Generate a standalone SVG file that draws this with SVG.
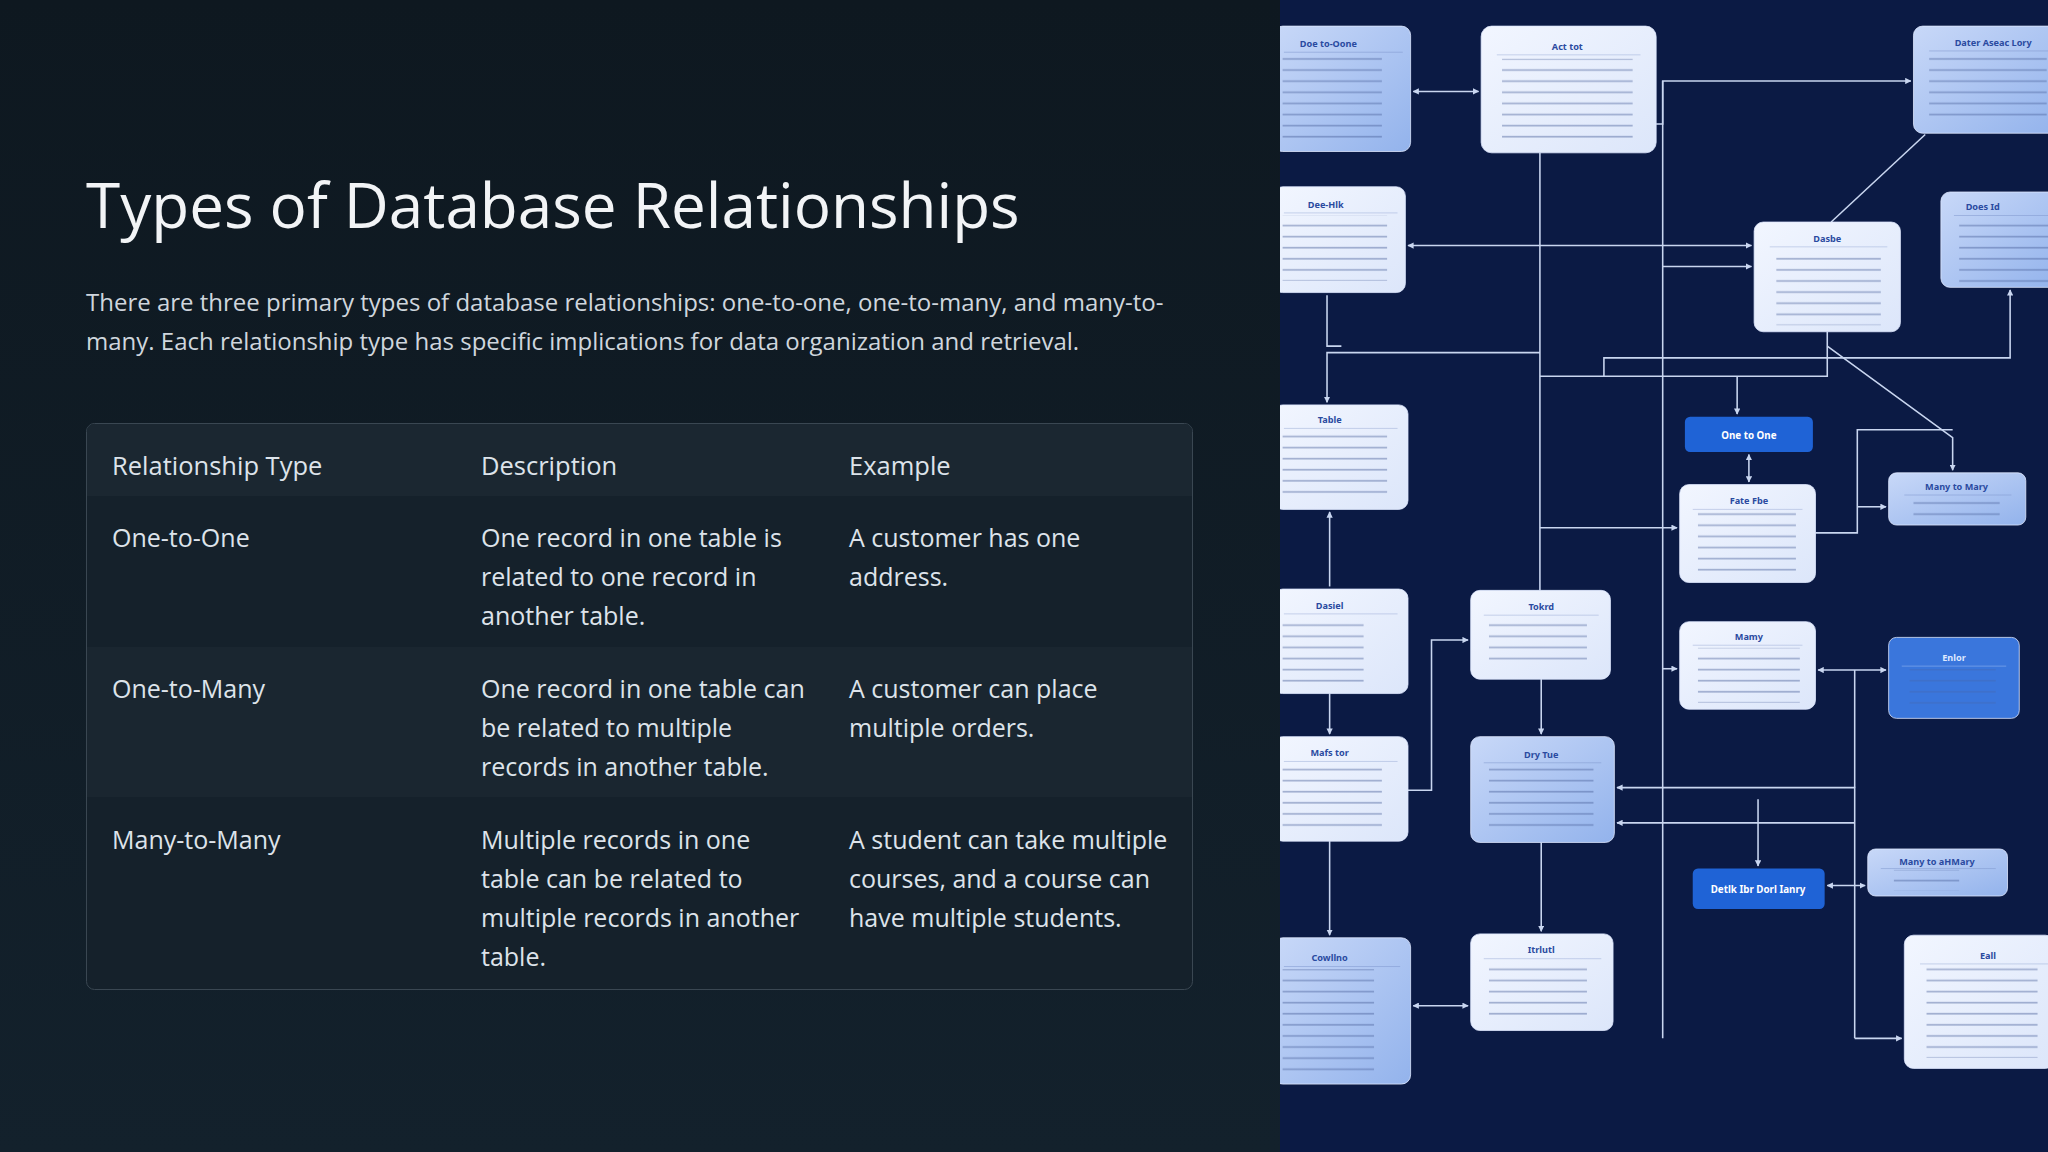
<svg xmlns="http://www.w3.org/2000/svg" width="2048" height="1152" viewBox="0 0 2048 1152">
<defs>
<linearGradient id="bgL" x1="0" y1="0" x2="0" y2="1"><stop offset="0" stop-color="#0e1820"/><stop offset="1" stop-color="#13212c"/></linearGradient>
<linearGradient id="lb" x1="0" y1="0" x2="1" y2="1"><stop offset="0" stop-color="#c8d8f8"/><stop offset="1" stop-color="#93b3ec"/></linearGradient>
<linearGradient id="wb" x1="0" y1="0" x2="1" y2="1"><stop offset="0" stop-color="#f2f6ff"/><stop offset="1" stop-color="#dce6fa"/></linearGradient>
<marker id="ar" viewBox="0 0 10 10" refX="9" refY="5" markerWidth="4" markerHeight="4" orient="auto-start-reverse"><path d="M0,0L10,5L0,10z" fill="#c9d6f0"/></marker>
<pattern id="tl" width="1" height="8.5" patternUnits="userSpaceOnUse"><rect x="0" y="2" width="1" height="1.3" fill="#4a5f9a" opacity="0.45"/></pattern>
<style>
.t{font-family:"Open Sans","Noto Sans","Liberation Sans",sans-serif}
.h{fill:#dde3ea;font-size:25.5px}
.c{fill:#dde3ea;font-size:25px}
.n rect.b{stroke:#dfe8ff;stroke-width:0.6}
.nt{font-family:"Noto Sans","Liberation Sans",sans-serif;font-size:7px;font-weight:bold;fill:#2a4aa0;text-anchor:middle}
.bt{font-family:"Noto Sans","Liberation Sans",sans-serif;font-size:7.5px;font-weight:bold;fill:#fff;text-anchor:middle}
.cn path{fill:none;stroke:#c9d6f0;stroke-width:1.2}
</style>
</defs>
<rect width="2048" height="1152" fill="url(#bgL)"/>
<text class="t" x="86" y="228" font-size="62" fill="#f2f4f6">Types of Database Relationships</text>
<text class="t" x="86" y="311" font-size="24" fill="#cfd6dd">There are three primary types of database relationships: one-to-one, one-to-many, and many-to-</text>
<text class="t" x="86" y="350" font-size="24" fill="#cfd6dd">many. Each relationship type has specific implications for data organization and retrieval.</text>
<g id="table">
<rect x="86.5" y="423.5" width="1106" height="566" rx="8" fill="#15212b" stroke="#3a4752"/>
<path d="M87,496V431a7,7 0 0 1 7,-7H1185a7,7 0 0 1 7,7V496z" fill="#1b2731"/>
<rect x="87" y="647" width="1105" height="150" fill="#1a2630"/>
<text class="t h" x="112" y="475">Relationship Type</text>
<text class="t h" x="481" y="475">Description</text>
<text class="t h" x="849" y="475">Example</text>
<text class="t c" x="112" y="547">One-to-One</text>
<text class="t c" x="481" y="547">One record in one table is</text>
<text class="t c" x="481" y="586">related to one record in</text>
<text class="t c" x="481" y="625">another table.</text>
<text class="t c" x="849" y="547">A customer has one</text>
<text class="t c" x="849" y="586">address.</text>
<text class="t c" x="112" y="698">One-to-Many</text>
<text class="t c" x="481" y="698">One record in one table can</text>
<text class="t c" x="481" y="737">be related to multiple</text>
<text class="t c" x="481" y="776">records in another table.</text>
<text class="t c" x="849" y="698">A customer can place</text>
<text class="t c" x="849" y="737">multiple orders.</text>
<text class="t c" x="112" y="849">Many-to-Many</text>
<text class="t c" x="481" y="849">Multiple records in one</text>
<text class="t c" x="481" y="888">table can be related to</text>
<text class="t c" x="481" y="927">multiple records in another</text>
<text class="t c" x="481" y="966">table.</text>
<text class="t c" x="849" y="849">A student can take multiple</text>
<text class="t c" x="849" y="888">courses, and a course can</text>
<text class="t c" x="849" y="927">have multiple students.</text>
</g>
<rect x="1280" y="0" width="768" height="1152" fill="#0b1a44"/>
<svg x="1280" y="0" width="768" height="1152" viewBox="980 0 588 882" preserveAspectRatio="none" overflow="hidden">
<g class="cn">
<path d="M1082,70H1132" marker-start="url(#ar)" marker-end="url(#ar)"/>
<path d="M1268,95H1273V62H1463" marker-end="url(#ar)"/>
<path d="M1273,62V795"/>
<path d="M1179,117V452"/>
<path d="M1078,188H1341" marker-start="url(#ar)" marker-end="url(#ar)"/>
<path d="M1273,204H1341" marker-end="url(#ar)"/>
<path d="M1402,170L1474,103"/>
<path d="M1016,226V265H1027"/>
<path d="M1179,270H1016V308" marker-end="url(#ar)"/>
<path d="M1399,254V288H1179"/>
<path d="M1228,288V274H1539V222" marker-end="url(#ar)"/>
<path d="M1330,288V317" marker-end="url(#ar)"/>
<path d="M1339,348V369" marker-start="url(#ar)" marker-end="url(#ar)"/>
<path d="M1399,265L1495,335V360" marker-end="url(#ar)"/>
<path d="M1390,408H1422V329H1495"/>
<path d="M1422,388H1444" marker-end="url(#ar)"/>
<path d="M1179,404H1284" marker-end="url(#ar)"/>
<path d="M1018,449V392" marker-end="url(#ar)"/>
<path d="M1018,531V562" marker-end="url(#ar)"/>
<path d="M1018,644V716" marker-end="url(#ar)"/>
<path d="M1078,605H1096V490H1124" marker-end="url(#ar)"/>
<path d="M1180,520V562" marker-end="url(#ar)"/>
<path d="M1273,512H1284" marker-end="url(#ar)"/>
<path d="M1392,513H1444" marker-start="url(#ar)" marker-end="url(#ar)"/>
<path d="M1238,603H1420V795" marker-start="url(#ar)"/>
<path d="M1420,630H1238" marker-end="url(#ar)"/>
<path d="M1346,612V663" marker-end="url(#ar)"/>
<path d="M1399,678H1428" marker-start="url(#ar)" marker-end="url(#ar)"/>
<path d="M1420,795H1456" marker-end="url(#ar)"/>
<path d="M1420,513V603"/>
<path d="M1180,645V713" marker-end="url(#ar)"/>
<path d="M1082,770H1124" marker-start="url(#ar)" marker-end="url(#ar)"/>
</g>
<g id="n1" class="n"><rect class="b" x="975" y="20" width="105" height="96" rx="7" fill="url(#lb)"/><text class="nt" x="1017" y="36">Doe to-Oone</text><path d="M983,40H1074" stroke="#7f96cc" stroke-width="0.4"/><rect x="982" y="43" width="76" height="66" fill="url(#tl)"/></g>
<g id="n2" class="n"><rect class="b" x="1134" y="20" width="134" height="97" rx="8" fill="url(#wb)"/><text class="nt" x="1200" y="38">Act tot</text><path d="M1146,42H1256" stroke="#9fb0d8" stroke-width="0.4"/><rect x="1150" y="45" width="100" height="66" fill="url(#tl)"/></g>
<g id="n3" class="n"><rect class="b" x="1465" y="20" width="110" height="82" rx="7" fill="url(#lb)"/><text class="nt" x="1526" y="35">Dater Aseac Lory</text><path d="M1477,39H1568" stroke="#7f96cc" stroke-width="0.4"/><rect x="1477" y="41" width="90" height="52" fill="url(#tl)"/></g>
<g id="n4" class="n"><rect class="b" x="975" y="143" width="101" height="81" rx="7" fill="url(#wb)"/><text class="nt" x="1015" y="159">Dee-Hlk</text><path d="M983,163H1070" stroke="#9fb0d8" stroke-width="0.4"/><rect x="982" y="165" width="80" height="50" fill="url(#tl)"/></g>
<g id="n5" class="n"><rect class="b" x="1343" y="170" width="112" height="84" rx="7" fill="url(#wb)"/><text class="nt" x="1399" y="185">Dasbe</text><path d="M1355,189H1445" stroke="#9fb0d8" stroke-width="0.4"/><rect x="1360" y="191" width="80" height="58" fill="url(#tl)"/></g>
<g id="n6" class="n"><rect class="b" x="1486" y="147" width="90" height="73" rx="7" fill="url(#lb)"/><text class="nt" x="1518" y="161">Does Id</text><path d="M1496,165H1568" stroke="#7f96cc" stroke-width="0.4"/><rect x="1500" y="167" width="68" height="50" fill="url(#tl)"/></g>
<g id="n7" class="n"><rect class="b" x="975" y="310" width="103" height="80" rx="7" fill="url(#wb)"/><text class="nt" x="1018" y="324">Table</text><path d="M983,328H1070" stroke="#9fb0d8" stroke-width="0.4"/><rect x="982" y="330" width="80" height="52" fill="url(#tl)"/></g>
<g id="n8"><rect x="1290" y="319" width="98" height="27" rx="4" fill="#1f63d6"/><text class="bt" x="1339" y="336">One to One</text></g>
<g id="n9" class="n"><rect class="b" x="1286" y="371" width="104" height="75" rx="7" fill="url(#wb)"/><text class="nt" x="1339" y="386">Fate Fbe</text><path d="M1296,390H1380" stroke="#9fb0d8" stroke-width="0.4"/><rect x="1300" y="392" width="75" height="50" fill="url(#tl)"/></g>
<g id="n10" class="n"><rect class="b" x="1446" y="362" width="105" height="40" rx="6" fill="url(#lb)"/><text class="nt" x="1498" y="375">Many to Mary</text><path d="M1458,379H1540" stroke="#7f96cc" stroke-width="0.4"/><rect x="1465" y="380" width="66" height="17" fill="url(#tl)"/></g>
<g id="n11" class="n"><rect class="b" x="975" y="451" width="103" height="80" rx="7" fill="url(#wb)"/><text class="nt" x="1018" y="466">Dasiel</text><path d="M983,470H1070" stroke="#9fb0d8" stroke-width="0.4"/><rect x="982" y="472" width="62" height="52" fill="url(#tl)"/></g>
<g id="n12" class="n"><rect class="b" x="1126" y="452" width="107" height="68" rx="7" fill="url(#wb)"/><text class="nt" x="1180" y="467">Tokrd</text><path d="M1136,471H1224" stroke="#9fb0d8" stroke-width="0.4"/><rect x="1140" y="473" width="75" height="38" fill="url(#tl)"/></g>
<g id="n13" class="n"><rect class="b" x="1286" y="476" width="104" height="67" rx="7" fill="url(#wb)"/><text class="nt" x="1339" y="490">Mamy</text><path d="M1296,494H1380" stroke="#9fb0d8" stroke-width="0.4"/><rect x="1300" y="496" width="78" height="42" fill="url(#tl)"/></g>
<g id="n14" class="n"><rect class="b" x="1446" y="488" width="100" height="62" rx="6" fill="#3a76dc"/><text class="nt" x="1496" y="506" style="fill:#dfe9ff">Enlor</text><path d="M1456,510H1536" stroke="#9dbcf0" stroke-width="0.4"/><rect x="1462" y="512" width="66" height="30" fill="url(#tl)" opacity="0.6"/></g>
<g id="n15" class="n"><rect class="b" x="975" y="564" width="103" height="80" rx="7" fill="url(#wb)"/><text class="nt" x="1018" y="579">Mafs tor</text><path d="M983,583H1070" stroke="#9fb0d8" stroke-width="0.4"/><rect x="982" y="585" width="76" height="52" fill="url(#tl)"/></g>
<g id="n16" class="n"><rect class="b" x="1126" y="564" width="110" height="81" rx="7" fill="url(#lb)"/><text class="nt" x="1180" y="580">Dry Tue</text><path d="M1136,584H1226" stroke="#7f96cc" stroke-width="0.4"/><rect x="1140" y="586" width="80" height="52" fill="url(#tl)"/></g>
<g id="n17"><rect x="1296" y="665" width="101" height="31" rx="4" fill="#1f63d6"/><text class="bt" x="1346" y="684">Detlk Ibr Dorl Ianry</text></g>
<g id="n18" class="n"><rect class="b" x="1430" y="650" width="107" height="36" rx="6" fill="url(#lb)"/><text class="nt" x="1483" y="662">Many to aHMary</text><path d="M1440,665H1528" stroke="#7f96cc" stroke-width="0.4"/><rect x="1450" y="666" width="50" height="16" fill="url(#tl)"/></g>
<g id="n19" class="n"><rect class="b" x="975" y="718" width="105" height="112" rx="7" fill="url(#lb)"/><text class="nt" x="1018" y="736">Cowllno</text><path d="M983,740H1072" stroke="#7f96cc" stroke-width="0.4"/><rect x="982" y="742" width="70" height="80" fill="url(#tl)"/></g>
<g id="n20" class="n"><rect class="b" x="1126" y="715" width="109" height="74" rx="7" fill="url(#wb)"/><text class="nt" x="1180" y="730">Itrlutl</text><path d="M1136,734H1226" stroke="#9fb0d8" stroke-width="0.4"/><rect x="1140" y="736" width="75" height="46" fill="url(#tl)"/></g>
<g id="n21" class="n"><rect class="b" x="1458" y="716" width="115" height="102" rx="7" fill="url(#wb)"/><text class="nt" x="1522" y="734">Eall</text><path d="M1470,738H1568" stroke="#9fb0d8" stroke-width="0.4"/><rect x="1475" y="740" width="85" height="70" fill="url(#tl)"/></g>
</svg>
</svg>
